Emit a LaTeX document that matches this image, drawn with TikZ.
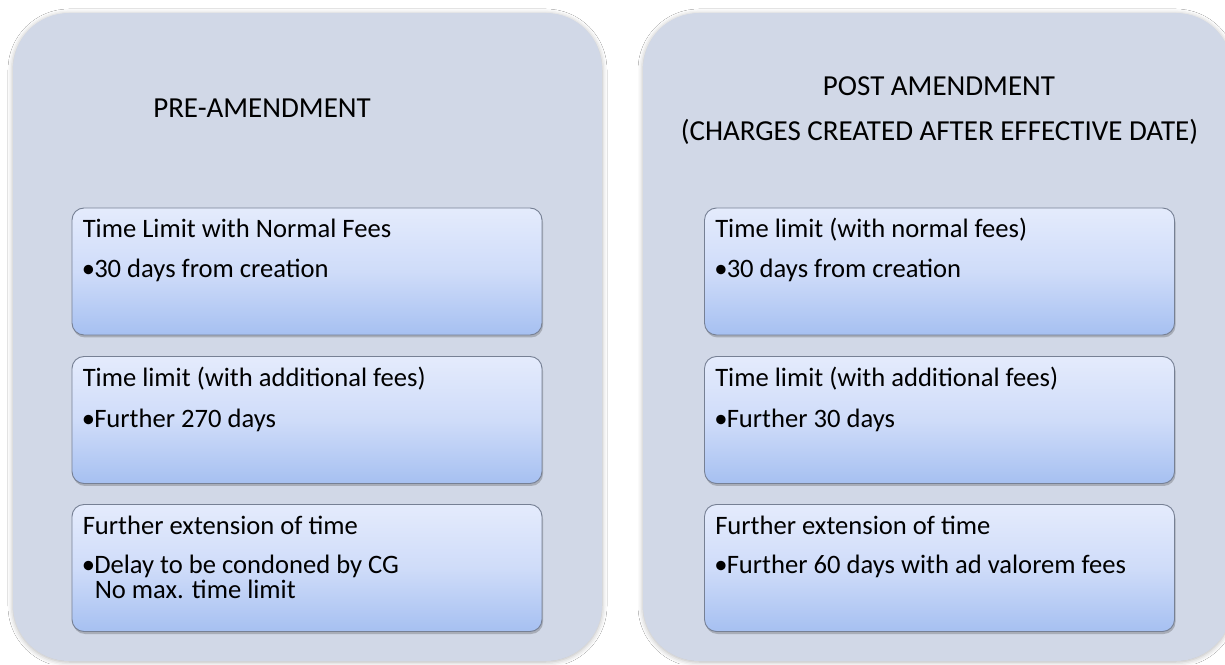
\documentclass[tikz,border=0pt]{standalone}
\usepackage{fontspec}
\setmainfont{Carlito}
\usetikzlibrary{shadows,shadows.blur}
\definecolor{panelfill}{RGB}{209,216,231}
\definecolor{cardtop}{RGB}{228,235,252}
\definecolor{cardmid}{RGB}{207,220,249}
\definecolor{cardbot}{RGB}{166,192,241}
\definecolor{cardedge}{RGB}{118,128,148}
\newcommand{\bul}{\makebox[12.5pt][l]{•}}
\begin{document}
\begin{tikzpicture}[x=1pt,y=1pt,
  panel/.style={rectangle, rounded corners=56pt, fill=panelfill,
    minimum width=589pt, minimum height=648pt, inner sep=0pt,
    blur shadow={shadow xshift=0pt, shadow yshift=-1pt,
      shadow blur radius=5pt, shadow opacity=30}},
  card/.style={rectangle, rounded corners=12pt, draw=cardedge, line width=0.9pt,
    top color=cardtop, bottom color=cardbot, middle color=cardmid,
    minimum width=470pt, minimum height=127pt, inner sep=0pt,
    drop shadow={shadow xshift=1pt, shadow yshift=-2.5pt, opacity=0.3, fill=black!70}},
  title/.style={font=\fontsize{29}{34}\selectfont, anchor=base, inner sep=0pt},
  txt/.style={font=\fontsize{26.6}{30}\selectfont, anchor=base west, inner sep=0pt},
]
\useasboundingbox (0,0) rectangle (1225,664);
\fill[white] (0,0) rectangle (1225,664);

% two outer panels
\node[panel] (pre)  at (307.5,327) {};
\node[panel] (post) at (937.5,327) {};

% headings
\node[title] (preT) at (262,546) {PRE-AMENDMENT};
\node[title] (postT1) at (939,568) {POST AMENDMENT};
\node[title] (postT2) at (939.5,523) {(CHARGES CREATED AFTER EFFECTIVE DATE)};

% cards, left column
\node[card] (l1) at (307,392.5) {};
\node[card] (l2) at (307,244) {};
\node[card] (l3) at (307,96) {};
% cards, right column
\node[card] (r1) at (939.5,392.5) {};
\node[card] (r2) at (939.5,244) {};
\node[card] (r3) at (939.5,96) {};

% card texts, left
\node[txt] (l1a) at ([xshift=11pt,yshift=-30pt]l1.north west) {Time Limit with Normal Fees};
\node[txt] (l1b) at ([xshift=10pt,yshift=-70pt]l1.north west) {\bul 30 days from creation};
\node[txt] (l2a) at ([xshift=11pt,yshift=-30pt]l2.north west) {Time limit (with additional fees)};
\node[txt] (l2b) at ([xshift=10pt,yshift=-71pt]l2.north west) {\bul Further 270 days};
\node[txt] (l3a) at ([xshift=11pt,yshift=-30pt]l3.north west) {Further extension of time};
\node[txt] (l3b) at ([xshift=10pt,yshift=-69pt]l3.north west) {\bul Delay to be condoned by CG};
\node[txt] (l3c) at ([xshift=23pt,yshift=-94pt]l3.north west) {No max. time limit};

% card texts, right
\node[txt] (r1a) at ([xshift=11pt,yshift=-30pt]r1.north west) {Time limit (with normal fees)};
\node[txt] (r1b) at ([xshift=10pt,yshift=-70pt]r1.north west) {\bul 30 days from creation};
\node[txt] (r2a) at ([xshift=11pt,yshift=-30pt]r2.north west) {Time limit (with additional fees)};
\node[txt] (r2b) at ([xshift=10pt,yshift=-71pt]r2.north west) {\bul Further 30 days};
\node[txt] (r3a) at ([xshift=11pt,yshift=-30pt]r3.north west) {Further extension of time};
\node[txt] (r3b) at ([xshift=10pt,yshift=-69pt]r3.north west) {\bul Further 60 days with ad valorem fees};
\end{tikzpicture}
\end{document}
